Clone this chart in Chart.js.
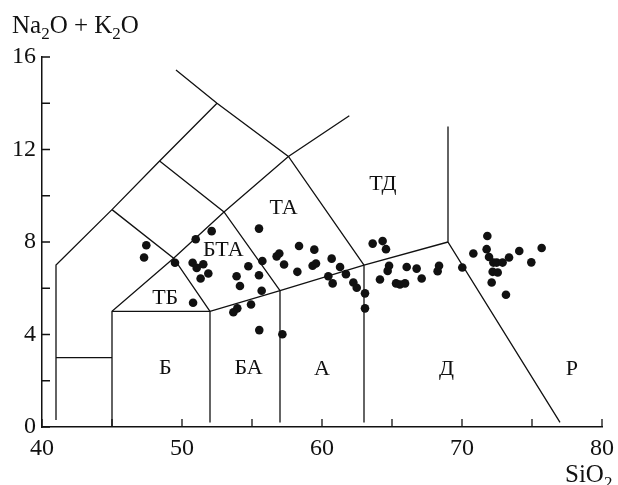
<!DOCTYPE html>
<html>
<head>
<meta charset="utf-8">
<script src="https://cdn.jsdelivr.net/npm/chart.js@4"></script>
<style>
  body { margin: 0; background: #fff; }
  canvas { display: block; }
</style>
</head>
<body>
<canvas id="tasChart" width="618" height="485"></canvas>
<script>
// ===== DATA =====
// sample points (SiO2, Na2O + K2O)
const sio2 = [
  47.45, 47.29, 49.5, 50.76, 51.05, 51.52, 51.33, 51.88, 50.98, 52.12,
  50.79, 53.9, 54.14, 54.74, 55.5, 55.74, 55.69, 55.5, 54.93, 53.95,
  53.67, 55.52, 56.76, 56.95, 57.29, 57.17, 58.36, 59.45, 58.24, 59.33,
  59.57, 60.69, 61.29, 60.45, 60.76, 61.71, 62.24, 62.48, 63.07, 63.07,
  63.62, 64.33, 64.57, 64.79, 64.69, 64.14, 66.05, 66.76, 65.29, 65.57,
  65.93, 67.12, 68.36, 68.26, 70.02, 70.81, 71.81, 71.76, 71.93, 72.24,
  72.48, 72.9, 73.36, 72.19, 72.55, 72.12, 73.14, 74.09, 74.95, 75.69,
];
const alkali = [
  7.86, 7.33, 7.1, 7.1, 6.88, 7.04, 6.42, 6.64, 8.12, 8.47,
  5.37, 6.52, 6.1, 6.95, 6.56, 7.18, 5.89, 8.58, 5.3, 5.13,
  4.96, 4.19, 7.38, 7.5, 7.03, 4.01, 7.83, 7.67, 6.71, 6.97,
  7.07, 7.28, 6.92, 6.52, 6.21, 6.61, 6.25, 6.02, 5.78, 5.13,
  7.93, 8.04, 7.69, 6.97, 6.75, 6.38, 6.92, 6.85, 6.21, 6.16,
  6.21, 6.42, 6.97, 6.74, 6.9, 7.5, 8.26, 7.69, 7.35, 7.11,
  7.11, 7.11, 7.33, 6.71, 6.68, 6.25, 5.72, 7.61, 7.12, 7.74,
];

// field boundaries (polylines in SiO2 / alkali units)
const boundaries = [
  [[41, 0.3], [41, 7], [45, 9.4], [48.4, 11.5], [52.5, 14]],
  [[49.57, 15.44], [52.5, 14], [57.6, 11.7], [63, 7]],
  [[45, 0], [45, 5], [49.4, 7.3], [53, 9.3], [57.6, 11.7], [61.95, 13.46]],
  [[41, 3], [45, 3]],
  [[45, 5], [52, 5], [57, 5.9], [63, 7], [69, 8]],
  [[52, 0.2], [52, 5]],
  [[57, 0.2], [57, 5.9]],
  [[63, 0.2], [63, 7]],
  [[69, 13], [69, 8], [77, 0.2]],
  [[45, 9.4], [49.4, 7.3], [52, 5]],
  [[48.4, 11.5], [53, 9.3], [57, 5.9]],
];

// field names
const fieldNames = ["Б", "БА", "А", "Д", "Р", "ТБ", "БТА", "ТА", "ТД"];
const fieldX = [48.8, 54.75, 60, 68.9, 77.85, 48.8, 52.95, 57.25, 64.35];
const fieldY = [2.54, 2.54, 2.5, 2.5, 2.5, 5.56, 7.64, 9.44, 10.52];

// ticks
const xTickStep = 5;
const yTickStep = 2;

// ===== PLUGINS =====
const FONT = "'Liberation Serif', 'DejaVu Serif', serif";

// tick marks pointing into the plot
const inwardTicks = {
  id: "inwardTicks",
  afterDraw(chart) {
    const { ctx, scales, chartArea } = chart;
    ctx.save();
    ctx.strokeStyle = "#111";
    ctx.lineWidth = 1.3;
    ctx.beginPath();
    scales.x.ticks.forEach((t) => {
      const px = scales.x.getPixelForValue(t.value);
      ctx.moveTo(px, chartArea.bottom);
      ctx.lineTo(px, chartArea.bottom - 8);
    });
    scales.y.ticks.forEach((t) => {
      const py = scales.y.getPixelForValue(t.value);
      ctx.moveTo(chartArea.left, py);
      ctx.lineTo(chartArea.left + 8, py);
    });
    ctx.stroke();
    ctx.restore();
  },
};

// field names on the diagram
const fieldLabels = {
  id: "fieldLabels",
  afterDatasetsDraw(chart) {
    const { ctx, scales } = chart;
    ctx.save();
    ctx.fillStyle = "#111";
    ctx.font = "22px " + FONT;
    ctx.textAlign = "center";
    ctx.textBaseline = "middle";
    fieldNames.forEach((name, i) => {
      ctx.fillText(
        name,
        scales.x.getPixelForValue(fieldX[i]),
        scales.y.getPixelForValue(fieldY[i]),
      );
    });
    ctx.restore();
  },
};

// text with subscripts: parts = [[text, isSub], ...]
function drawSubText(ctx, parts, x, y) {
  parts.forEach(([txt, sub]) => {
    ctx.font = (sub ? "17px " : "25px ") + FONT;
    ctx.fillText(txt, x, sub ? y + 6 : y);
    x += ctx.measureText(txt).width;
  });
}

const axisTitles = {
  id: "axisTitles",
  afterDraw(chart) {
    const { ctx } = chart;
    ctx.save();
    ctx.fillStyle = "#111";
    ctx.textAlign = "left";
    ctx.textBaseline = "alphabetic";
    drawSubText(ctx, [["Na", false], ["2", true], ["O + K", false], ["2", true], ["O", false]], 12, 33);
    drawSubText(ctx, [["SiO", false], ["2", true]], 565, 482);
    ctx.restore();
  },
};

// ===== CHART =====
const lineSets = boundaries.map((line) => ({
  data: line.map(([x, y]) => ({ x, y })),
  showLine: true,
  borderColor: "#111",
  borderWidth: 1.3,
  pointRadius: 0,
  tension: 0,
  fill: false,
}));

const pointSet = {
  data: sio2.map((x, i) => ({ x, y: alkali[i] })),
  backgroundColor: "#111",
  borderWidth: 0,
  pointRadius: 4.3,
};

new Chart(document.getElementById("tasChart"), {
  type: "scatter",
  data: { datasets: [...lineSets, pointSet] },
  options: {
    responsive: false,
    animation: false,
    layout: { padding: { top: 57, right: 16, left: 0, bottom: 0 } },
    plugins: {
      legend: { display: false },
      tooltip: { enabled: false },
    },
    scales: {
      x: {
        type: "linear",
        min: 40,
        max: 80,
        grid: { display: false, drawTicks: false },
        border: { display: true, color: "#111", width: 1.5 },
        ticks: {
          stepSize: xTickStep,
          padding: 7,
          color: "#111",
          font: { family: FONT, size: 24 },
          maxRotation: 0,
          callback: (v) => (v % 10 === 0 ? v : ""),
        },
        afterFit: (scale) => {
          scale.height = 58;
          scale.paddingLeft = 0;
          scale.paddingRight = 0;
        },
      },
      y: {
        type: "linear",
        min: 0,
        max: 16,
        grid: { display: false, drawTicks: false },
        border: { display: true, color: "#111", width: 1.5 },
        ticks: {
          stepSize: yTickStep,
          padding: 6,
          color: "#111",
          font: { family: FONT, size: 24 },
          callback: (v) => (v % 4 === 0 ? v : ""),
        },
        afterFit: (scale) => {
          scale.width = 42;
          scale.paddingTop = 0;
          scale.paddingBottom = 0;
        },
      },
    },
  },
  plugins: [inwardTicks, fieldLabels, axisTitles],
});
</script>
</body>
</html>
